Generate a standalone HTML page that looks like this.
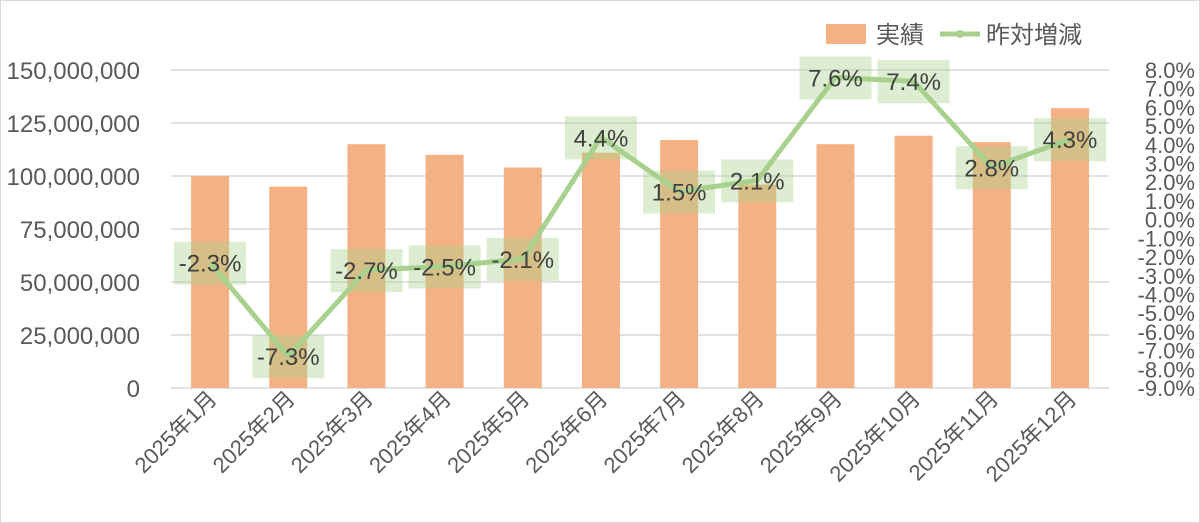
<!DOCTYPE html><html><head><meta charset="utf-8"><style>body{margin:0;background:#fff}svg{display:block}</style></head><body>
<svg width="1200" height="523" viewBox="0 0 1200 523" xmlns="http://www.w3.org/2000/svg" font-family="Liberation Sans, Noto Sans CJK JP, sans-serif">
<rect x="0.5" y="0.5" width="1199" height="522" fill="#fff" stroke="#d9d9d9"/>
<g stroke="#d9d9d9" stroke-width="1.5">
<line x1="171" x2="1109" y1="70" y2="70"/><line x1="171" x2="1109" y1="123" y2="123"/><line x1="171" x2="1109" y1="176" y2="176"/><line x1="171" x2="1109" y1="229" y2="229"/><line x1="171" x2="1109" y1="282" y2="282"/><line x1="171" x2="1109" y1="335" y2="335"/><line x1="171" x2="1109" y1="388" y2="388"/>
</g>
<g fill="#595959" font-size="24" text-anchor="end">
<text x="140" y="79">150,000,000</text><text x="140" y="132">125,000,000</text><text x="140" y="185">100,000,000</text><text x="140" y="238">75,000,000</text><text x="140" y="291">50,000,000</text><text x="140" y="344">25,000,000</text><text x="140" y="397">0</text>
</g>
<g fill="#595959" font-size="22" text-anchor="end" id="r"></g>
<g fill="#f4b183" id="bars"></g>
<polyline id="ln" fill="none" stroke="#a9d18e" stroke-width="5" stroke-linejoin="round"/>
<g id="lbl"></g>
<g fill="#595959" font-size="22" id="xl"></g>
<rect x="826" y="24" width="40" height="20" fill="#f4b183"/>
<text x="876" y="43" font-size="24" fill="#595959">実績</text>
<line x1="940" y1="34" x2="980" y2="34" stroke="#a9d18e" stroke-width="5"/><circle cx="960" cy="34" r="4" fill="#a9d18e"/>
<text x="986" y="43" font-size="24" fill="#595959">昨対増減</text>
<script>
var ns="http://www.w3.org/2000/svg";
function el(t,a,p,txt){var e=document.createElementNS(ns,t);for(var k in a)e.setAttribute(k,a[k]);if(txt!=null)e.textContent=txt;document.getElementById(p).appendChild(e);return e;}
for(var v=8;v>=-9;v--){el("text",{x:1195,y:70+(8-v)*18.706+8},"r",v.toFixed(1)+"%");}
var vals=[100,95,115,110,104,111,117,96,115,119,116,132];
var pct=[-2.3,-7.3,-2.7,-2.5,-2.1,4.4,1.5,2.1,7.6,7.4,2.8,4.3];
var pts=[];
for(var i=0;i<12;i++){var cx=171+78.17*(i+0.5);var h=vals[i]*318/150;
el("rect",{x:cx-19,y:388-h,width:38,height:h},"bars");
var y=70+(8-pct[i])*18.706;pts.push(cx+","+y);
el("text",{transform:"translate("+(cx+8)+",400) rotate(-45)","text-anchor":"end"},"xl","2025年"+(i+1)+"月");}
document.getElementById("ln").setAttribute("points",pts.join(" "));
for(var i=0;i<12;i++){var cx=171+78.17*(i+0.5);var y=70+(8-pct[i])*18.706;
el("rect",{x:cx-36,y:y-21,width:72,height:43,fill:"#a9d18e","fill-opacity":"0.4"},"lbl");
el("text",{x:cx,y:y+9,"text-anchor":"middle","font-size":"24",fill:"#404040"},"lbl",pct[i].toFixed(1)+"%");}
</script>
</svg></body></html>
